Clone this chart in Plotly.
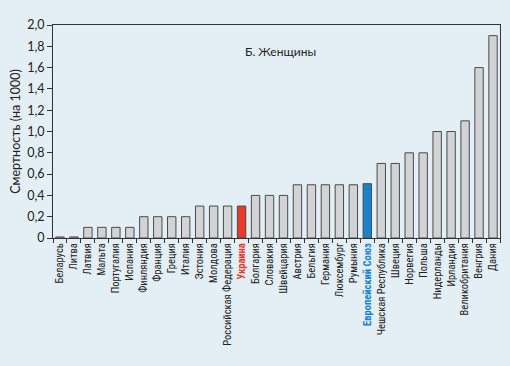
import plotly.graph_objects as go

countries = ["Беларусь", "Литва", "Латвия", "Мальта", "Португалия", "Испания",
             "Финляндия", "Франция", "Греция", "Италия", "Эстония", "Молдова",
             "Российская Федерация", "Украина", "Болгария", "Словакия", "Швейцария",
             "Австрия", "Бельгия", "Германия", "Люксембург", "Румыния",
             "Европейский Союз", "Чешская Республика", "Швеция", "Норвегия", "Польша",
             "Нидерланды", "Ирландия", "Великобритания", "Венгрия", "Дания"]
values = [0.01, 0.01, 0.1, 0.1, 0.1, 0.1, 0.2, 0.2, 0.2, 0.2, 0.3, 0.3, 0.3, 0.3,
          0.4, 0.4, 0.4, 0.5, 0.5, 0.5, 0.5, 0.5, 0.51, 0.7, 0.7, 0.8, 0.8,
          1.0, 1.0, 1.1, 1.6, 1.9]
y_ticks = [0, 0.2, 0.4, 0.6, 0.8, 1.0, 1.2, 1.4, 1.6, 1.8, 2.0]
y_tick_labels = ["0", "0,2", "0,4", "0,6", "0,8", "1,0", "1,2", "1,4", "1,6", "1,8", "2,0"]
highlight = {"Украина": "#e8392b", "Европейский Союз": "#1683cc"}

colors = [highlight.get(c, "#d2d3d5") for c in countries]
ticktext = []
for c in countries:
    if c in highlight:
        ticktext.append(f"<span style='color:{highlight[c]}'><b>{c}</b></span>")
    else:
        ticktext.append(c)

fig = go.Figure(go.Bar(
    x=countries, y=values,
    marker=dict(color=colors, line=dict(color="#4a4a4a", width=1)),
    width=0.6,
))

bg = "#e4eef5"
fig.update_layout(
    width=502, height=358,
    paper_bgcolor=bg, plot_bgcolor=bg,
    margin=dict(l=45, r=10, t=17, b=128),
    showlegend=False,
    font=dict(family="Lato, Open Sans, sans-serif", color="#222"),
    annotations=[dict(text="Б. Женщины", x=0.51, y=0.92, xref="paper", yref="paper",
                      showarrow=False, font=dict(size=12, color="#222"))],
)
fig.update_xaxes(
    tickmode="array", tickvals=countries, ticktext=ticktext,
    tickangle=-90, tickfont=dict(size=10.5, family="Roboto Condensed, Roboto, sans-serif"),
    showline=True, linecolor="#333", linewidth=1, mirror=True,
    ticks="outside", ticklen=4, tickcolor="#333", tickson="boundaries",
    showgrid=False, range=[-0.5, len(countries) - 0.5], automargin=False,
)
fig.update_yaxes(
    range=[0, 2.0], tickvals=y_ticks, ticktext=y_tick_labels,
    tickfont=dict(size=12.5),
    showline=True, linecolor="#333", linewidth=1, mirror=True,
    ticks="outside", ticklen=5, tickcolor="#333",
    showgrid=False, zeroline=False, automargin=False,
    title=dict(text="Смертность (на 1000)", font=dict(size=12.5), standoff=6),
)
fig.write_html(
    "out.html",
    post_script=f"document.body.style.background='{bg}';"
                f"document.documentElement.style.background='{bg}';",
)
